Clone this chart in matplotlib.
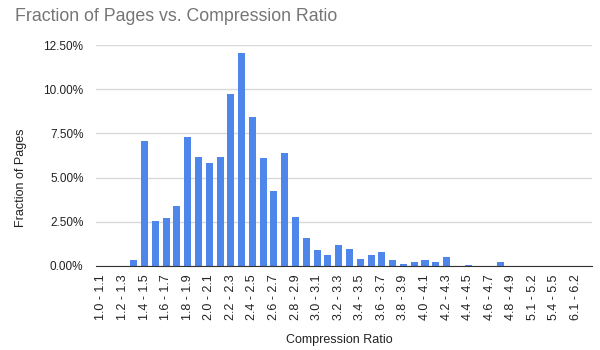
import matplotlib
matplotlib.use("Agg")
import matplotlib.pyplot as plt
import numpy as np

# compression ratio buckets (only every other one gets a label on the axis)
categories = ["1.0 - 1.1", "1.1 - 1.2", "1.2 - 1.3", "1.3 - 1.4", "1.4 - 1.5",
              "1.5 - 1.6", "1.6 - 1.7", "1.7 - 1.8", "1.8 - 1.9", "1.9 - 2.0",
              "2.0 - 2.1", "2.1 - 2.2", "2.2 - 2.3", "2.3 - 2.4", "2.4 - 2.5",
              "2.5 - 2.6", "2.6 - 2.7", "2.7 - 2.8", "2.8 - 2.9", "2.9 - 3.0",
              "3.0 - 3.1", "3.1 - 3.2", "3.2 - 3.3", "3.3 - 3.4", "3.4 - 3.5",
              "3.5 - 3.6", "3.6 - 3.7", "3.7 - 3.8", "3.8 - 3.9", "3.9 - 4.0",
              "4.0 - 4.1", "4.1 - 4.2", "4.2 - 4.3", "4.3 - 4.4", "4.4 - 4.5",
              "4.5 - 4.6", "4.6 - 4.7", "4.7 - 4.8", "4.8 - 4.9", "4.9 - 5.0",
              "5.1 - 5.2", "5.2 - 5.3", "5.4 - 5.5", "5.7 - 5.8", "6.1 - 6.2",
              "6.5 - 6.6"]

# fraction of pages, in percent
fractions = [0.0, 0.0, 0.0, 0.33, 7.1,
             2.53, 2.7, 3.4, 7.3, 6.18,
             5.85, 6.18, 9.73, 12.05, 8.45,
             6.12, 4.27, 6.4, 2.75, 1.6,
             0.91, 0.62, 1.2, 0.97, 0.4,
             0.62, 0.8, 0.32, 0.12, 0.23,
             0.34, 0.23, 0.51, 0.01, 0.06,
             0.01, 0.01, 0.2, 0.01, 0.01,
             0.01, 0.01, 0.01, 0.01, 0.01,
             0.01]

yticks = [0, 2.5, 5, 7.5, 10, 12.5]

plt.rcParams['font.family'] = ['Liberation Sans', 'DejaVu Sans']

fig = plt.figure(figsize=(6, 3.5), dpi=100)
ax = fig.add_axes([0.16, 0.24, 0.827, 0.631])

x = np.arange(len(categories))
ax.bar(x, fractions, width=0.65, color='#4e86ec', zorder=3)

ax.set_xlim(-0.5, len(categories) - 0.5)
ax.set_ylim(0, 12.5)
ax.set_yticks(yticks)
ax.set_yticklabels(['%.2f%%' % v for v in yticks], fontsize=8.5, color='#222222')
ax.set_xticks(x[::2])
ax.set_xticklabels(categories[::2], rotation=90, fontsize=9, color='#222222')
ax.tick_params(axis='both', length=0)
ax.tick_params(axis='y', pad=9)
ax.tick_params(axis='x', pad=6)

ax.grid(axis='y', color='#d9d9d9', linewidth=1, zorder=0)
for s in ['top', 'right', 'left']:
  ax.spines[s].set_visible(False)
ax.spines['bottom'].set_color('#333333')
ax.spines['bottom'].set_zorder(4)

ax.set_ylabel('Fraction of Pages', fontsize=9, color='#222222')
ax.yaxis.set_label_coords(-0.14, 0.40)
ax.set_xlabel('Compression Ratio', fontsize=9, color='#222222')
ax.xaxis.set_label_coords(0.49, -0.31)
fig.text(0.025, 0.952, 'Fraction of Pages vs. Compression Ratio', fontsize=12.8,
         color='#757575', va='center', ha='left')

fig.savefig('out.png', dpi=100)
